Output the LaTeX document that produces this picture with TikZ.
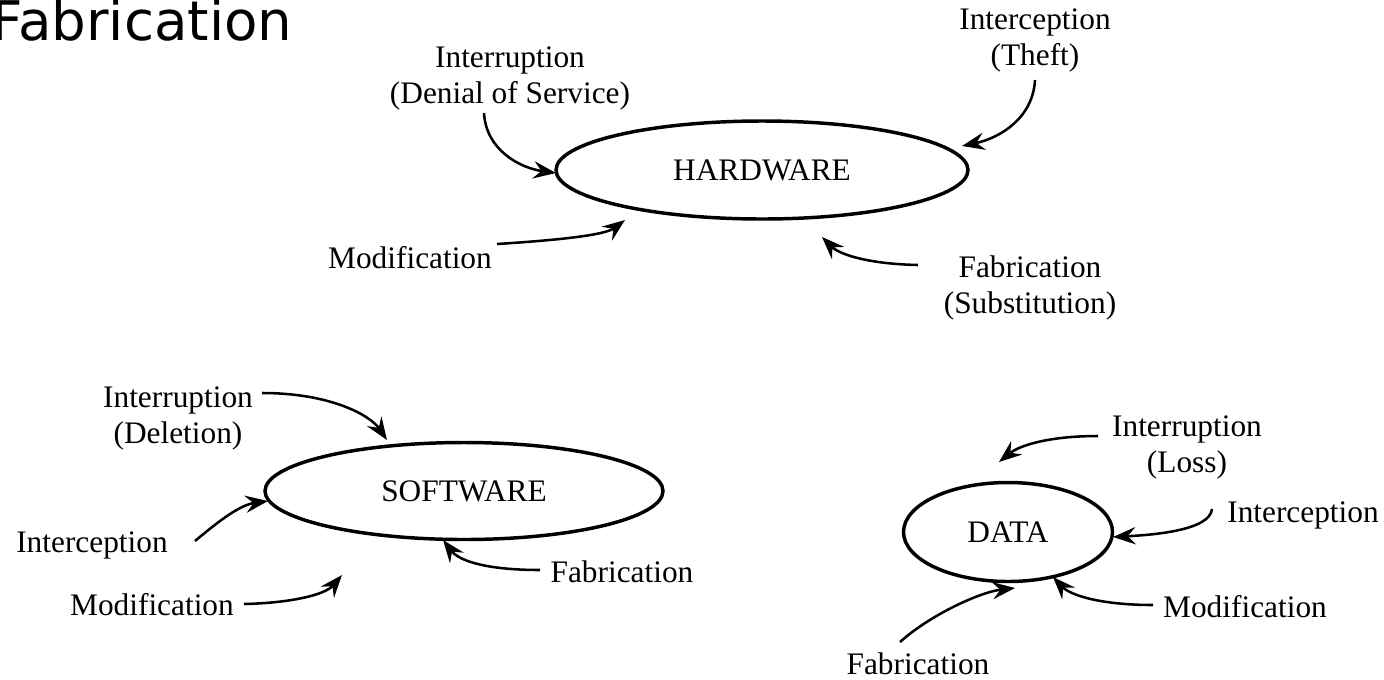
\documentclass[tikz,border=0pt]{standalone}
\usepackage{fontspec}
\setmainfont{Liberation Serif}
\newfontfamily\titlefont{DejaVu Sans}
\usetikzlibrary{arrows.meta,shapes.geometric}
\tikzset{
    %Define standard arrow tip
    >={Stealth[length=17pt,width=13pt,inset=6pt]},
    %Define style for the assets
    asset/.style={
           ellipse,
           draw=black, line width=2.6pt,
           inner sep=0pt,
           font=\fontsize{23.5}{27}\selectfont,
           text centered},
    %Define style for the threat labels
    threat/.style={
           align=center,
           inner sep=0pt,
           font=\fontsize{23.5}{27}\selectfont},
    % Define arrow style
    pil/.style={
           ->,
           line width=1.9pt}
}
\begin{document}
\begin{tikzpicture}[x=0.75pt,y=-0.75pt]
\useasboundingbox (0,0) rectangle (1384,679);

\node[anchor=base east, font=\titlefont\fontsize{41}{45}\selectfont] (title) at (297,40) {Fabrication};

 %assets
\node[asset, minimum width=309pt, minimum height=73.5pt] (hw) at (762,170) {HARDWARE};
\node[asset, minimum width=298.5pt, minimum height=72.75pt] (sw) at (464,491) {SOFTWARE};
\node[asset, minimum width=156.75pt, minimum height=74.25pt] (data) at (1008,532) {DATA};

 %threats
\node[threat] (hwint) at (510,78) {Interruption\\(Denial of Service)};
\node[threat] (hwicp) at (1035,40) {Interception\\(Theft)};
\node[threat] (hwmod) at (410,258) {Modification};
\node[threat] (hwfab) at (1030,288) {Fabrication\\(Substitution)};

\node[threat] (swint) at (178,418) {Interruption\\(Deletion)};
\node[threat] (swicp) at (92,545) {Interception};
\node[threat] (swmod) at (152,605) {Modification};
\node[threat] (swfab) at (622,572) {Fabrication};

\node[threat] (dint) at (1187,447) {Interruption\\(Loss)};
\node[threat] (dicp) at (1303,515) {Interception};
\node[threat] (dmod) at (1245,607) {Modification};
\node[threat] (dfab) at (918,664) {Fabrication};

 %arrows
\draw[pil] ([shift={(-26,35)}]hwint.center) .. controls +(2,37) and +(-36,-5) .. ([shift={(-206,3)}]hw.center);
\draw[pil] ([shift={(0,40)}]hwicp.center) .. controls +(-2,38) and +(38,-8) .. ([shift={(200,-24)}]hw.center);
\draw[pil] ([shift={(87,-14)}]hwmod.center) .. controls +(63,-4) and +(-20,15) .. ([shift={(-137,50)}]hw.center);
\draw[pil] ([shift={(-112,-23)}]hwfab.center) .. controls +(-48,-1) and +(18,18) .. ([shift={(60,67)}]hw.center);

\draw[pil] ([shift={(84,-25)}]swint.center) .. controls +(68,0) and +(-17,-25) .. ([shift={(-77,-51)}]sw.center);
\draw[pil] ([shift={(103,-4)}]swicp.center) .. controls +(25,-21) and +(-28,4) .. ([shift={(-196,10)}]sw.center);
\draw[pil] ([shift={(92,-1)}]swmod.center) .. controls +(46,-1) and +(-17,20) .. ([shift={(-122,84)}]sw.center);
\draw[pil] ([shift={(-82,-2)}]swfab.center) .. controls +(-50,0) and +(17,22) .. ([shift={(-21,49)}]sw.center);

\draw[pil] ([shift={(-89,-11)}]dint.center) .. controls +(-48,0) and +(21,-17) .. ([shift={(-9,-70)}]data.center);
\draw[pil] ([shift={(-91,-6)}]dicp.center) .. controls +(-2,22) and +(37,-2) .. ([shift={(105,5)}]data.center);
\draw[pil] ([shift={(-92,-2)}]dmod.center) .. controls +(-53,0) and +(17,18) .. ([shift={(45,45)}]data.center);
\draw[pil] ([shift={(-18,-22)}]dfab.center) .. controls +(30,-27) and +(-35,4) .. ([shift={(7,56)}]data.center);
\end{tikzpicture}
\end{document}
